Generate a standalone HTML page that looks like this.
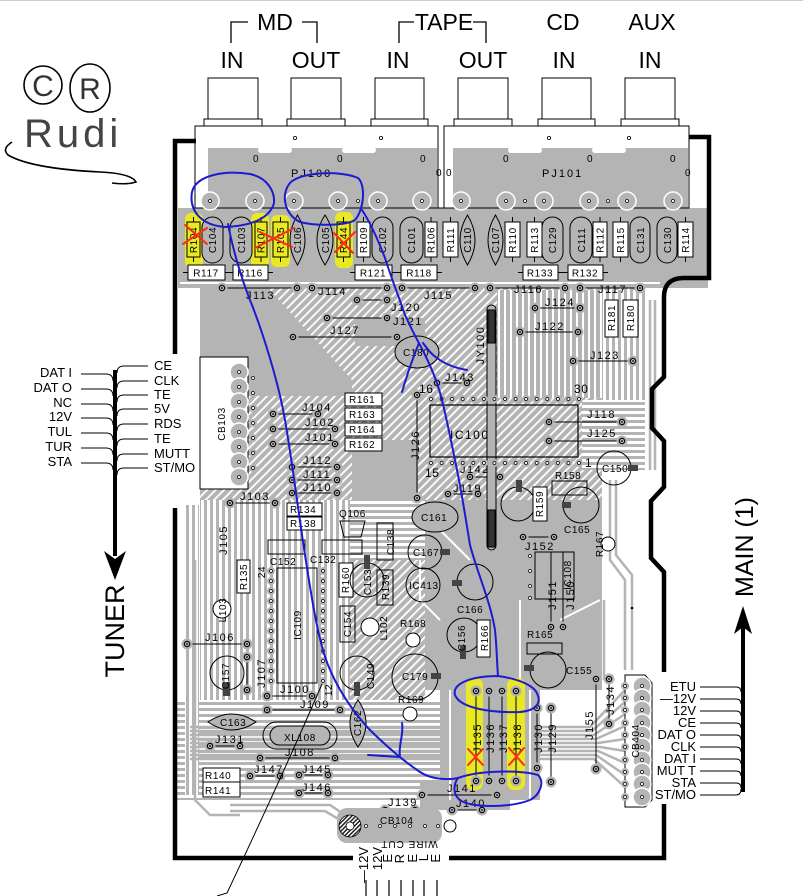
<!DOCTYPE html>
<html><head><meta charset="utf-8"><style>
html,body{margin:0;padding:0;background:#fff;}
svg{display:block;}
text{font-family:"Liberation Sans",Arial,sans-serif;fill:#000;}
.s{font-size:10px;letter-spacing:0.6px;}
.j{font-size:11px;letter-spacing:1.5px;}
.L{font-size:23px;}
.t{font-size:13px;}
</style></head><body>
<svg width="803" height="896" viewBox="0 0 803 896" xmlns="http://www.w3.org/2000/svg">
<defs>
<pattern id="pd" width="6" height="6" patternUnits="userSpaceOnUse" patternTransform="rotate(45)"><rect width="6" height="6" fill="#b4b4b4"/><rect width="1.8" height="6" fill="#fff"/></pattern>
<pattern id="pv" width="6" height="6" patternUnits="userSpaceOnUse"><rect width="6" height="6" fill="#b4b4b4"/><rect width="2" height="6" fill="#fff"/></pattern>
<pattern id="gv" width="6" height="6" patternUnits="userSpaceOnUse"><rect width="6" height="6" fill="#fff"/><rect width="3" height="6" fill="#b4b4b4"/></pattern>
<pattern id="gh" width="6" height="6" patternUnits="userSpaceOnUse"><rect width="6" height="6" fill="#fff"/><rect width="6" height="3" fill="#b4b4b4"/></pattern>
<pattern id="hatch" width="3" height="3" patternUnits="userSpaceOnUse" patternTransform="rotate(45)"><rect width="3" height="3" fill="#fff"/><rect width="1.5" height="3" fill="#222"/></pattern>
<g id="jd"><circle r="5.5" fill="#b4b4b4"/><circle r="2.7" fill="none" stroke="#000" stroke-width="1.1"/><circle r="0.9" fill="#000"/></g>
<g id="pp"><circle r="4" fill="#b4b4b4"/><circle r="1.5" fill="#fff" stroke="#000" stroke-width="0.7"/></g>
<g id="pad"><circle r="9" fill="#b4b4b4" stroke="#fff" stroke-width="1.5"/><circle r="1.5" fill="#fff" stroke="#000" stroke-width="0.7"/></g>
</defs>

<line x1="0" y1="0.5" x2="803" y2="0.5" stroke="#cfcfcf" stroke-width="1"/>

<!-- ===== PCB fills ===== -->
<rect x="178" y="208" width="530" height="80" fill="#b4b4b4"/>
<rect x="200" y="288" width="445" height="212" fill="url(#pd)"/>
<rect x="177" y="288" width="23" height="570" fill="#fff"/>
<polygon points="200,288 268,288 352,380 352,396 248,396 248,357 200,357" fill="#b4b4b4"/>
<rect x="352" y="440" width="66" height="60" fill="#b4b4b4"/>
<rect x="355" y="318" width="70" height="28" fill="#b4b4b4"/>
<rect x="497" y="290" width="105" height="108" fill="url(#pv)"/>
<rect x="602" y="290" width="43" height="110" fill="url(#gv)"/>
<rect x="582" y="400" width="63" height="70" fill="url(#gh)"/>
<rect x="645" y="288" width="19" height="400" fill="#fff"/>
<rect x="200" y="500" width="150" height="200" fill="url(#gv)"/>
<rect x="350" y="500" width="75" height="60" fill="url(#gh)"/>
<rect x="350" y="560" width="75" height="140" fill="url(#pd)"/>
<rect x="425" y="500" width="177" height="190" fill="#b4b4b4"/>
<rect x="602" y="470" width="43" height="220" fill="#fff"/>
<rect x="177" y="700" width="263" height="100" fill="url(#gh)"/>
<rect x="440" y="680" width="100" height="120" fill="#b4b4b4"/>
<rect x="540" y="690" width="124" height="168" fill="#fff"/>
<rect x="177" y="800" width="263" height="58" fill="#fff"/>
<rect x="420" y="782" width="90" height="28" fill="#b4b4b4"/>
<rect x="185" y="505" width="14" height="290" fill="url(#gv)"/>
<!-- grey trace bundles -->
<g stroke="#b4b4b4" stroke-width="2.5" fill="none">
<path d="M190,727 H590 L625,690"/><path d="M190,731 H592 L625,702"/><path d="M190,735 H594 L625,714"/>
<path d="M190,739 H596 L625,726"/><path d="M190,743 H598 L625,739"/><path d="M190,747 H600 L625,751"/>
<path d="M190,751 H598 L625,763"/><path d="M190,755 H596 L625,775"/><path d="M190,759 H594 L625,787"/>
<path d="M610,480 V560 L625,580 V670"/><path d="M616,480 V555 L632,575 V670"/><path d="M604,600 V680"/>
<path d="M230,805 H330 L345,815"/><path d="M230,811 H325 L340,820"/><path d="M195,560 V800 L210,815 H240"/>
<path d="M650,300 V470"/><path d="M655,300 V470"/>
</g>
<!-- white traces over grey -->
<g stroke="#fff" stroke-width="2" fill="none">
<path d="M180,283 H660"/><path d="M430,520 L470,560"/><path d="M440,620 L420,600 V560"/><path d="M520,600 V690"/>
<path d="M560,620 L600,600"/><path d="M450,690 V800"/><path d="M530,690 V800"/>
</g>

<!-- ===== Top jacks & housings ===== -->
<g fill="#fff" stroke="#000" stroke-width="1">
<rect x="208" y="78" width="50" height="41"/><rect x="204" y="119" width="58" height="7"/>
<rect x="291" y="78" width="50" height="41"/><rect x="287" y="119" width="58" height="7"/>
<rect x="375" y="78" width="49" height="41"/><rect x="371" y="119" width="57" height="7"/>
<rect x="458" y="78" width="50" height="41"/><rect x="454" y="119" width="58" height="7"/>
<rect x="542" y="78" width="49" height="41"/><rect x="538" y="119" width="57" height="7"/>
<rect x="625" y="78" width="50" height="41"/><rect x="621" y="119" width="58" height="7"/>
<rect x="195" y="126" width="243" height="82"/>
<rect x="444" y="126" width="245" height="82"/>
</g>
<rect x="208" y="148" width="229" height="60" fill="#b4b4b4"/>
<rect x="453" y="148" width="235" height="60" fill="#b4b4b4"/>
<g fill="#fff"><rect x="258" y="147" width="34" height="6" rx="3"/><rect x="342" y="147" width="34" height="6" rx="3"/><rect x="508" y="147" width="34" height="6" rx="3"/><rect x="592" y="147" width="34" height="6" rx="3"/></g>
<line x1="195" y1="208" x2="689" y2="208" stroke="#000" stroke-width="1"/>
<g fill="none" stroke="#000" stroke-width="0.8"><circle cx="295" cy="138" r="1.6"/><circle cx="381" cy="138" r="1.6"/><circle cx="549" cy="138" r="1.6"/><circle cx="629" cy="138" r="1.6"/></g>
<g class="s"><text x="253" y="162">0</text><text x="337" y="162">0</text><text x="420" y="162">0</text><text x="503" y="162">0</text><text x="587" y="162">0</text><text x="670" y="162">0</text><text x="436" y="176">0</text><text x="446" y="176">0</text><text x="685" y="176">0</text></g>
<text x="291" y="177" class="s" style="font-size:11px;letter-spacing:2px">PJ100</text>
<text x="542" y="177" class="s" style="font-size:11px;letter-spacing:2px">PJ101</text>
<g>
<use href="#pad" x="210" y="201"/><use href="#pad" x="255" y="201"/><use href="#pad" x="294" y="201"/><use href="#pad" x="338" y="201"/><use href="#pp" x="358" y="201"/><use href="#pad" x="378" y="201"/><use href="#pad" x="422" y="201"/>
<use href="#pad" x="461" y="201"/><use href="#pad" x="506" y="201"/><use href="#pp" x="525" y="201"/><use href="#pad" x="544" y="201"/><use href="#pad" x="589" y="201"/><use href="#pp" x="608" y="201"/><use href="#pad" x="627" y="201"/><use href="#pad" x="673" y="201"/>
</g>

<!-- top labels -->
<g class="L" text-anchor="middle">
<text x="275" y="30">MD</text><text x="444" y="30">TAPE</text><text x="563" y="30">CD</text><text x="652" y="30">AUX</text>
<text x="232" y="68">IN</text><text x="316" y="68">OUT</text><text x="398" y="68">IN</text><text x="483" y="68">OUT</text><text x="564" y="68">IN</text><text x="650" y="68">IN</text>
</g>
<g fill="none" stroke="#000" stroke-width="1.3">
<path d="M231,43 V22 H248"/><path d="M302,22 H317 V43"/>
<path d="M399,43 V22 H414"/><path d="M473,22 H486 V43"/>
</g>

<!-- board outline -->
<g fill="none" stroke="#000" stroke-width="4.5">
<path d="M196,141 H175 V354"/>
<path d="M175,508 V858 H353"/>
<path d="M449,858 H664 V804"/>
<path d="M664,672 V572 L651,558 V501 L664,487 V441 L652,428 V389 L664,377 V297 Q664,278 684,278 H709 V137 H689"/>
</g>

<!-- yellow highlights -->
<g fill="#e8e825">
<rect x="185" y="213" width="18" height="55" rx="6"/><rect x="251" y="213" width="18" height="55" rx="6"/>
<rect x="271" y="215" width="19" height="52" rx="6"/><rect x="335" y="212" width="18" height="56" rx="6"/>
<rect x="466" y="678" width="17" height="112" rx="7"/><rect x="507" y="678" width="18" height="112" rx="7"/>
</g>

<!-- top row components -->
<g stroke="#000" stroke-width="1">
<g fill="none">
<path d="M193.5,217V222M193.5,257V262M261,217V222M261,257V262M280.5,217V222M280.5,257V262M343.5,217V222M343.5,257V262M363.5,217V222M363.5,257V262M431,217V222M431,257V262M450.5,217V222M450.5,257V262M512.5,217V222M512.5,257V262M534.5,217V222M534.5,257V262M600,217V222M600,257V262M620.5,217V222M620.5,257V262M685.5,217V222M685.5,257V262"/>
</g>
<g fill="none">
<rect x="187" y="222" width="13" height="35"/><rect x="255" y="222" width="12" height="35"/><rect x="273" y="222" width="15" height="35"/><rect x="337" y="222" width="13" height="35"/>
</g>
<g fill="#fff">
<rect x="357" y="222" width="13" height="35"/><rect x="425" y="222" width="12" height="35"/><rect x="443" y="222" width="15" height="35"/><rect x="505" y="222" width="15" height="35"/><rect x="527" y="222" width="15" height="35"/><rect x="593" y="222" width="14" height="35"/><rect x="613" y="222" width="15" height="35"/><rect x="678" y="222" width="15" height="35"/>
</g>
<g fill="#b4b4b4">
<rect x="202" y="217" width="21" height="46" rx="10.5"/><rect x="230" y="217" width="22" height="46" rx="11"/><rect x="372" y="217" width="21" height="46" rx="10.5"/><rect x="400" y="217" width="23" height="46" rx="11.5"/>
<rect x="542" y="217" width="21" height="46" rx="10.5"/><rect x="570" y="217" width="22" height="46" rx="11"/><rect x="630" y="217" width="20" height="46" rx="10"/><rect x="657" y="217" width="20" height="46" rx="10"/>
<path d="M297.5,215 Q312.5,240 297.5,265 Q282.5,240 297.5,215Z"/><path d="M325,215 Q341,240 325,265 Q309,240 325,215Z"/>
<path d="M467.5,215 Q482.5,240 467.5,265 Q452.5,240 467.5,215Z"/><path d="M495.5,215 Q510.5,240 495.5,265 Q480.5,240 495.5,215Z"/>
</g>
<g fill="#fff">
<rect x="188" y="265" width="37" height="15"/><rect x="233" y="265" width="35" height="15"/><rect x="355" y="265" width="37" height="15"/><rect x="401" y="265" width="36" height="15"/><rect x="523" y="265" width="35" height="15"/><rect x="568" y="265" width="35" height="15"/>
</g>
<path fill="none" d="M183,272.5H188M225,272.5H230M228,272.5H233M268,272.5H273M350,272.5H355M392,272.5H397M396,272.5H401M437,272.5H442M518,272.5H523M558,272.5H563M563,272.5H568M603,272.5H608"/>
</g>
<g class="s" text-anchor="middle">
<text transform="translate(197,240) rotate(-90)">R104</text><text transform="translate(216,240) rotate(-90)">C104</text>
<text transform="translate(245,240) rotate(-90)">C103</text><text transform="translate(264.5,240) rotate(-90)">R107</text>
<text transform="translate(284,240) rotate(-90)">R105</text><text transform="translate(301,240) rotate(-90)">C106</text>
<text transform="translate(329,240) rotate(-90)">C105</text><text transform="translate(347,240) rotate(-90)">R144</text>
<text transform="translate(367,240) rotate(-90)">R109</text><text transform="translate(386,240) rotate(-90)">C102</text>
<text transform="translate(415,240) rotate(-90)">C101</text><text transform="translate(434.5,240) rotate(-90)">R106</text>
<text transform="translate(454,240) rotate(-90)">R111</text><text transform="translate(471,240) rotate(-90)">C110</text>
<text transform="translate(499,240) rotate(-90)">C107</text><text transform="translate(516,240) rotate(-90)">R110</text>
<text transform="translate(538,240) rotate(-90)">R113</text><text transform="translate(556,240) rotate(-90)">C129</text>
<text transform="translate(585,240) rotate(-90)">C111</text><text transform="translate(603.5,240) rotate(-90)">R112</text>
<text transform="translate(624,240) rotate(-90)">R115</text><text transform="translate(644,240) rotate(-90)">C131</text>
<text transform="translate(671,240) rotate(-90)">C130</text><text transform="translate(689,240) rotate(-90)">R114</text>
<text x="206" y="276.5">R117</text><text x="250" y="276.5">R116</text><text x="373" y="276.5">R121</text><text x="419" y="276.5">R118</text><text x="540" y="276.5">R133</text><text x="585" y="276.5">R132</text>
</g>

<!-- J jumpers -->
<g stroke="#000" stroke-width="1">
<path d="M222,288H297M312,288H387M402,288H475M490,288H565M580,288H640"/>
<path d="M357,300H387M327,318H387M293,337H397M535,308H580M520,332H578M573,361H633"/>
<path d="M437,383H467M549,422H622M549,441H622M470,477H500M448,494H478M523,537H554"/>
<path d="M417,395V498M551,552V627M563,552V627"/>
<path d="M273,414H318M273,429H335M273,444H335M292,467H337M292,480H337M292,493H337M230,503H275"/>
<path d="M187,644H247M247,657V690M267,696H312M267,710H340M210,746H240M260,758H335M250,776H280M299,775H328M299,793H328"/>
<path d="M476,691V781M489,691V781M502,691V781M516,691V781M537,708V768M551,708V782M596,679V769M609,679V724"/>
<path d="M422,795H497M452,810H482M385,810H415"/>
</g>
<g>
<use href="#jd" x="222" y="288"/><use href="#jd" x="297" y="288"/><use href="#jd" x="312" y="288"/><use href="#jd" x="387" y="288"/><use href="#jd" x="402" y="288"/><use href="#jd" x="475" y="288"/><use href="#jd" x="490" y="288"/><use href="#jd" x="565" y="288"/><use href="#jd" x="580" y="288"/><use href="#jd" x="640" y="288"/>
<use href="#jd" x="357" y="300"/><use href="#jd" x="387" y="300"/><use href="#jd" x="327" y="318"/><use href="#jd" x="387" y="318"/><use href="#jd" x="293" y="337"/><use href="#jd" x="397" y="337"/>
<use href="#jd" x="535" y="308"/><use href="#jd" x="580" y="308"/><use href="#jd" x="520" y="332"/><use href="#jd" x="578" y="332"/><use href="#jd" x="573" y="361"/><use href="#jd" x="633" y="361"/>
<use href="#jd" x="437" y="383"/><use href="#jd" x="467" y="383"/><use href="#jd" x="549" y="422"/><use href="#jd" x="622" y="422"/><use href="#jd" x="549" y="441"/><use href="#jd" x="622" y="441"/>
<use href="#jd" x="470" y="477"/><use href="#jd" x="500" y="477"/><use href="#jd" x="448" y="494"/><use href="#jd" x="478" y="494"/><use href="#jd" x="523" y="537"/><use href="#jd" x="554" y="537"/>
<use href="#jd" x="417" y="395"/><use href="#jd" x="417" y="498"/><use href="#jd" x="551" y="627"/><use href="#jd" x="563" y="627"/>
<use href="#jd" x="273" y="414"/><use href="#jd" x="318" y="414"/><use href="#jd" x="273" y="429"/><use href="#jd" x="335" y="429"/><use href="#jd" x="273" y="444"/><use href="#jd" x="335" y="444"/>
<use href="#jd" x="292" y="467"/><use href="#jd" x="337" y="467"/><use href="#jd" x="292" y="480"/><use href="#jd" x="337" y="480"/><use href="#jd" x="292" y="493"/><use href="#jd" x="337" y="493"/><use href="#jd" x="230" y="503"/><use href="#jd" x="275" y="503"/>
<use href="#jd" x="187" y="644"/><use href="#jd" x="247" y="644"/><use href="#jd" x="247" y="657"/><use href="#jd" x="247" y="690"/><use href="#jd" x="267" y="696"/><use href="#jd" x="312" y="696"/><use href="#jd" x="267" y="710"/><use href="#jd" x="340" y="710"/>
<use href="#jd" x="210" y="746"/><use href="#jd" x="240" y="746"/><use href="#jd" x="260" y="758"/><use href="#jd" x="335" y="758"/><use href="#jd" x="250" y="776"/><use href="#jd" x="280" y="776"/><use href="#jd" x="299" y="775"/><use href="#jd" x="328" y="775"/><use href="#jd" x="299" y="793"/><use href="#jd" x="328" y="793"/>
<use href="#jd" x="476" y="691"/><use href="#jd" x="489" y="691"/><use href="#jd" x="502" y="691"/><use href="#jd" x="516" y="691"/><use href="#jd" x="476" y="781"/><use href="#jd" x="489" y="781"/><use href="#jd" x="502" y="781"/><use href="#jd" x="516" y="781"/>
<use href="#jd" x="537" y="708"/><use href="#jd" x="537" y="768"/><use href="#jd" x="551" y="708"/><use href="#jd" x="551" y="782"/><use href="#jd" x="596" y="679"/><use href="#jd" x="596" y="769"/><use href="#jd" x="609" y="679"/><use href="#jd" x="609" y="724"/>
<use href="#jd" x="422" y="795"/><use href="#jd" x="497" y="795"/><use href="#jd" x="452" y="810"/><use href="#jd" x="482" y="810"/><use href="#jd" x="385" y="810"/><use href="#jd" x="415" y="810"/>
</g>
<g class="j">
<text x="246" y="299">J113</text><text x="318" y="295">J114</text><text x="424" y="299">J115</text><text x="514" y="293">J116</text><text x="598" y="293">J117</text>
<text x="391" y="311">J120</text><text x="393" y="325">J121</text><text x="330" y="334">J127</text><text x="545" y="306">J124</text><text x="535" y="330">J122</text><text x="590" y="359">J123</text>
<text x="445" y="381">J143</text><text x="587" y="418">J118</text><text x="587" y="437">J125</text><text x="460" y="473">J142</text><text x="453" y="492">J119</text><text x="525" y="550">J152</text>
<text x="302" y="411">J104</text><text x="305" y="426">J102</text><text x="305" y="441">J101</text><text x="303" y="464">J112</text><text x="303" y="478">J111</text><text x="303" y="491">J110</text><text x="240" y="500">J103</text>
<text x="205" y="641">J106</text><text x="280" y="693">J100</text><text x="300" y="708">J109</text><text x="215" y="743">J131</text><text x="285" y="756">J108</text><text x="254" y="773">J147</text><text x="302" y="773">J145</text><text x="302" y="791">J146</text>
<text x="447" y="792">J141</text><text x="456" y="807">J140</text><text x="388" y="806">J139</text>
</g>
<g class="j" text-anchor="middle">
<text transform="translate(419,445) rotate(-90)">J126</text><text transform="translate(484,345) rotate(-90)">JY100</text>
<text transform="translate(556,595) rotate(-90)">J151</text><text transform="translate(574,595) rotate(-90)">J150</text>
<text transform="translate(227,540) rotate(-90)">J105</text><text transform="translate(265,673) rotate(-90)">J107</text>
<text transform="translate(481,738) rotate(-90)">J135</text><text transform="translate(494,738) rotate(-90)">J136</text><text transform="translate(507,738) rotate(-90)">J137</text><text transform="translate(521,738) rotate(-90)">J138</text>
<text transform="translate(542,738) rotate(-90)">J130</text><text transform="translate(556,738) rotate(-90)">J129</text><text transform="translate(593,725) rotate(-90)">J155</text><text transform="translate(614,700) rotate(-90)">J134</text>
</g>

<!-- middle components -->
<g stroke="#000" stroke-width="1">
<ellipse cx="417" cy="352" rx="22" ry="16" fill="#b4b4b4"/>
<rect x="605" y="300" width="13" height="37" fill="#fff"/><rect x="623" y="300" width="15" height="37" fill="#fff"/>
<rect x="487" y="305" width="9" height="245" rx="4.5" fill="#b4b4b4"/>
<rect x="488" y="310" width="7" height="33" fill="#333"/><rect x="488" y="510" width="7" height="37" fill="#333"/>
<rect x="430" y="405" width="148" height="52" fill="none" stroke-width="1.2"/>
<circle cx="614" cy="468" r="17" fill="none"/>
<ellipse cx="435" cy="517" rx="23" ry="15" fill="#b4b4b4"/>
<circle cx="518" cy="504" r="17" fill="none"/>
<rect x="533" y="487" width="14" height="34" fill="#fff"/>
<rect x="552" y="481" width="35" height="14" fill="none"/>
<circle cx="581" cy="505" r="18" fill="none"/>
<circle cx="608" cy="544" r="7" fill="#fff"/>
<rect x="535" y="552" width="39" height="47" fill="none"/>
<rect x="200" y="357" width="48" height="132" fill="#fff"/>
<rect x="345" y="393" width="37" height="13" fill="#fff"/><rect x="345" y="408" width="37" height="13" fill="#fff"/><rect x="345" y="423" width="37" height="13" fill="#fff"/><rect x="345" y="438" width="37" height="13" fill="#fff"/>
<rect x="287" y="503" width="35" height="13" fill="#fff"/><rect x="287" y="517" width="35" height="13" fill="#fff"/>
<polygon points="340,521 365,521 361,537 344,537" fill="none"/>
<rect x="377" y="523" width="16" height="37" fill="none"/>
<rect x="268" y="540" width="37" height="14" fill="none"/><rect x="322" y="540" width="40" height="14" fill="none"/>
<rect x="237" y="560" width="13" height="33" fill="#fff"/>
<rect x="277" y="568" width="40" height="115" fill="none"/>
<rect x="339" y="563" width="14" height="34" fill="#fff"/>
<circle cx="367" cy="580" r="17" fill="none"/>
<rect x="377" y="570" width="16" height="35" fill="none"/>
<rect x="340" y="606" width="15" height="36" fill="none"/>
<circle cx="370" cy="627" r="9" fill="#fff"/>
<circle cx="357" cy="673" r="17" fill="none"/>
<path d="M358,700 Q374,723 358,747 Q342,723 358,700Z" fill="#b4b4b4"/>
<circle cx="222" cy="609" r="9" fill="#fff"/>
<circle cx="227" cy="673" r="17" fill="none"/>
<path d="M208,722 Q232,706 256,722 Q232,738 208,722Z" fill="#b4b4b4"/>
<rect x="263" y="722" width="74" height="27" rx="13.5" fill="none"/><rect x="270" y="726" width="60" height="19" rx="9.5" fill="#b4b4b4"/>
<rect x="203" y="768" width="37" height="14" fill="#fff"/><rect x="203" y="782" width="37" height="15" fill="#fff"/>
<rect x="527" y="643" width="35" height="11" fill="none"/>
<circle cx="548" cy="670" r="18" fill="none"/>
<circle cx="464" cy="635" r="17" fill="none"/>
<rect x="477" y="620" width="13" height="37" fill="#fff"/>
<circle cx="413" cy="640" r="7" fill="#fff"/>
<circle cx="415" cy="677" r="23" fill="none"/>
<circle cx="410" cy="714" r="7" fill="#fff"/>
<circle cx="425" cy="552" r="17" fill="none"/>
<circle cx="423" cy="585" r="17" fill="none"/>
<circle cx="475" cy="582" r="18" fill="none"/>
<path d="M625,675 H645 L652,683 V800 L645,807 H625 Z" fill="#fff"/>
</g>
<g fill="#444">
<rect x="628" y="465" width="10" height="6"/><rect x="516" y="480" width="6" height="12"/><rect x="562" y="502" width="9" height="6"/>
<rect x="364" y="555" width="6" height="14"/><rect x="354" y="682" width="6" height="14"/><rect x="223" y="682" width="7" height="14"/>
<rect x="524" y="665" width="10" height="6"/><rect x="460" y="645" width="6" height="14"/><rect x="431" y="673" width="10" height="6"/>
<rect x="440" y="549" width="10" height="6"/><rect x="452" y="580" width="10" height="6"/>
</g>
<!-- IC pins and CB pads -->
<g>
<use href="#pp" x="431" y="399"/><use href="#pp" x="441.6" y="399"/><use href="#pp" x="452.1" y="399"/><use href="#pp" x="462.7" y="399"/><use href="#pp" x="473.3" y="399"/><use href="#pp" x="483.9" y="399"/><use href="#pp" x="494.4" y="399"/><use href="#pp" x="505" y="399"/><use href="#pp" x="515.6" y="399"/><use href="#pp" x="526.1" y="399"/><use href="#pp" x="536.7" y="399"/><use href="#pp" x="547.3" y="399"/><use href="#pp" x="557.9" y="399"/><use href="#pp" x="568.4" y="399"/><use href="#pp" x="579" y="399"/>
<use href="#pp" x="431" y="463"/><use href="#pp" x="441.6" y="463"/><use href="#pp" x="452.1" y="463"/><use href="#pp" x="462.7" y="463"/><use href="#pp" x="473.3" y="463"/><use href="#pp" x="483.9" y="463"/><use href="#pp" x="494.4" y="463"/><use href="#pp" x="505" y="463"/><use href="#pp" x="515.6" y="463"/><use href="#pp" x="526.1" y="463"/><use href="#pp" x="536.7" y="463"/><use href="#pp" x="547.3" y="463"/><use href="#pp" x="557.9" y="463"/><use href="#pp" x="568.4" y="463"/><use href="#pp" x="579" y="463"/>
<use href="#pad" x="239" y="372"/><use href="#pad" x="239" y="387"/><use href="#pad" x="239" y="402"/><use href="#pad" x="239" y="417"/><use href="#pad" x="239" y="432"/><use href="#pad" x="239" y="447"/><use href="#pad" x="239" y="462"/><use href="#pad" x="239" y="477"/>
<use href="#pp" x="253" y="378"/><use href="#pp" x="253" y="393"/><use href="#pp" x="253" y="408"/><use href="#pp" x="253" y="423"/><use href="#pp" x="253" y="438"/><use href="#pp" x="253" y="453"/><use href="#pp" x="253" y="468"/>
<use href="#pp" x="271" y="571"/><use href="#pp" x="271" y="581"/><use href="#pp" x="271" y="591"/><use href="#pp" x="271" y="601"/><use href="#pp" x="271" y="611"/><use href="#pp" x="271" y="621"/><use href="#pp" x="271" y="631"/><use href="#pp" x="271" y="641"/><use href="#pp" x="271" y="651"/><use href="#pp" x="271" y="661"/><use href="#pp" x="271" y="671"/><use href="#pp" x="271" y="681"/>
<use href="#pp" x="323" y="571"/><use href="#pp" x="323" y="581"/><use href="#pp" x="323" y="591"/><use href="#pp" x="323" y="601"/><use href="#pp" x="323" y="611"/><use href="#pp" x="323" y="621"/><use href="#pp" x="323" y="631"/><use href="#pp" x="323" y="641"/><use href="#pp" x="323" y="651"/><use href="#pp" x="323" y="661"/><use href="#pp" x="323" y="671"/><use href="#pp" x="323" y="681"/>
<use href="#pp" x="530" y="556"/><use href="#pp" x="530" y="571"/><use href="#pp" x="530" y="586"/><use href="#pp" x="530" y="598"/>
<use href="#pp" x="625" y="686"/><use href="#pp" x="625" y="698"/><use href="#pp" x="625" y="710"/><use href="#pp" x="625" y="723"/><use href="#pp" x="625" y="735"/><use href="#pp" x="625" y="747"/><use href="#pp" x="625" y="760"/><use href="#pp" x="625" y="772"/><use href="#pp" x="625" y="784"/><use href="#pp" x="625" y="797"/>
<use href="#pad" x="642" y="686"/><use href="#pad" x="642" y="698"/><use href="#pad" x="642" y="710"/><use href="#pad" x="642" y="723"/><use href="#pad" x="642" y="735"/><use href="#pad" x="642" y="747"/><use href="#pad" x="642" y="760"/><use href="#pad" x="642" y="772"/><use href="#pad" x="642" y="784"/><use href="#pad" x="642" y="797"/>
</g>
<g class="s">
<text x="403" y="356">C180</text><text x="450" y="439" style="font-size:12px;letter-spacing:1.5px">IC100</text>
<text x="419" y="393" style="font-size:12px">16</text><text x="574" y="393" style="font-size:12px">30</text><text x="425" y="477" style="font-size:12px">15</text><text x="585" y="467" style="font-size:12px">1</text>
<text x="602" y="472">C150</text><text x="421" y="521">C161</text><text x="555" y="479">R158</text><text x="564" y="533">C165</text>
<text x="349" y="403">R161</text><text x="349" y="418">R163</text><text x="349" y="433">R164</text><text x="349" y="448">R162</text>
<text x="290" y="513">R134</text><text x="290" y="527">R138</text><text x="339" y="517">Q106</text><text x="270" y="565">C152</text><text x="310" y="563">C132</text>
<text x="284" y="741">XL108</text><text x="205" y="779">R140</text><text x="205" y="794">R141</text><text x="220" y="726">C163</text>
<text x="527" y="638">R165</text><text x="566" y="674">C155</text><text x="457" y="613">C166</text><text x="400" y="627">R168</text><text x="398" y="703">R169</text><text x="402" y="680">C179</text>
<text x="413" y="556">C167</text><text x="409" y="589">IC413</text>
</g>
<g class="s" text-anchor="middle">
<text transform="translate(615,318) rotate(-90)">R181</text><text transform="translate(634,318) rotate(-90)">R180</text>
<text transform="translate(543,504) rotate(-90)">R159</text><text transform="translate(603,544) rotate(-90)">R167</text><text transform="translate(571,575) rotate(-90)">IC108</text>
<text transform="translate(225,424) rotate(-90)">CB103</text><text transform="translate(247,577) rotate(-90)">R135</text><text transform="translate(301,625) rotate(-90)">IC109</text>
<text transform="translate(349,580) rotate(-90)">R160</text><text transform="translate(371,582) rotate(-90)">C153</text><text transform="translate(389,587) rotate(-90)">R139</text><text transform="translate(394,542) rotate(-90)">C138</text>
<text transform="translate(351,624) rotate(-90)">C154</text><text transform="translate(374,676) rotate(-90)">C149</text><text transform="translate(361,723) rotate(-90)">C162</text><text transform="translate(229,676) rotate(-90)">C157</text>
<text transform="translate(226,610) rotate(-90)">L103</text><text transform="translate(387,628) rotate(-90)">L102</text><text transform="translate(488,638) rotate(-90)">R166</text><text transform="translate(465,638) rotate(-90)">C156</text>
<text transform="translate(639,741) rotate(-90)">CB404</text><text transform="translate(265,572) rotate(-90)">24</text><text transform="translate(332,690) rotate(-90)">12</text>
</g>

<!-- CB104 -->
<rect x="337" y="808" width="105" height="35" rx="10" fill="#b4b4b4"/>
<circle cx="350" cy="826" r="11" fill="url(#hatch)" stroke="#000" stroke-width="0.8"/>
<circle cx="350" cy="826" r="4" fill="#fff" stroke="#000" stroke-width="0.8"/>
<g><use href="#pp" x="366" y="826"/><use href="#pp" x="380" y="826"/><use href="#pp" x="395" y="826"/><use href="#pp" x="410" y="826"/><use href="#pp" x="425" y="826"/><use href="#pp" x="438" y="826"/></g>
<circle cx="450" cy="826" r="6" fill="#fff" stroke="#000" stroke-width="1"/>
<text x="380" y="824" class="s">CB104</text>
<text transform="translate(409,841) rotate(180)" text-anchor="middle" style="font-size:10px;letter-spacing:1px">WIRE CUT</text>

<!-- bottom labels -->
<g class="t" text-anchor="end">
<text transform="translate(368,847) rotate(-90)">—12V</text><text transform="translate(382,847) rotate(-90)">12V</text>
<text transform="translate(392,854) rotate(-90)">E</text><text transform="translate(404,854) rotate(-90)">R</text><text transform="translate(417,854) rotate(-90)">E</text><text transform="translate(428,854) rotate(-90)">L</text><text transform="translate(440,854) rotate(-90)">E</text>
</g>
<path d="M366,880V896M377,880V896M389,880V896M401,880V896M413,880V896M424,880V896M437,880V896" stroke="#000" stroke-width="1.2"/>

<!-- wire -->
<path d="M322,684 Q285,770 227,893 L217,896" fill="none" stroke="#000" stroke-width="1"/>

<!-- TUNER connector -->
<g class="t" text-anchor="end">
<text x="72" y="377">DAT I</text><text x="72" y="392">DAT O</text><text x="72" y="407">NC</text><text x="72" y="421">12V</text><text x="72" y="436">TUL</text><text x="72" y="451">TUR</text><text x="72" y="466">STA</text>
</g>
<g class="t">
<text x="154" y="370">CE</text><text x="154" y="385">CLK</text><text x="154" y="399">TE</text><text x="154" y="413">5V</text><text x="154" y="428">RDS</text><text x="154" y="443">TE</text><text x="154" y="458">MUTT</text><text x="154" y="472">ST/MO</text>
</g>
<g fill="none" stroke="#000" stroke-width="1">
<path d="M81,374H106Q113,374 113,381M81,389H106Q113,389 113,396M81,404H106Q113,404 113,411M81,418H106Q113,418 113,425M81,433H106Q113,433 113,440M81,448H106Q113,448 113,455M81,463H106Q113,463 113,470"/>
<path d="M148,366H124Q117,366 117,373M148,381H124Q117,381 117,388M148,395H124Q117,395 117,402M148,409H124Q117,409 117,416M148,424H124Q117,424 117,431M148,439H124Q117,439 117,446M148,454H124Q117,454 117,461M148,468H124Q117,468 117,475"/>
</g>
<line x1="115" y1="370" x2="115" y2="556" stroke="#000" stroke-width="4"/>
<polygon points="104,551 115,559 126,551 115,580" fill="#000"/>
<text transform="translate(124,631) rotate(-90)" text-anchor="middle" style="font-size:27px">TUNER</text>

<!-- MAIN connector -->
<g class="t" text-anchor="end">
<text x="696" y="691">ETU</text><text x="696" y="703">—12V</text><text x="696" y="715">12V</text><text x="696" y="727">CE</text><text x="696" y="739">DAT O</text><text x="696" y="751">CLK</text><text x="696" y="763">DAT I</text><text x="696" y="775">MUT T</text><text x="696" y="787">STA</text><text x="696" y="799">ST/MO</text>
</g>
<g fill="none" stroke="#000" stroke-width="1">
<path d="M700,687H736Q741,687 741,692M700,699H736Q741,699 741,704M700,711H736Q741,711 741,716M700,723H736Q741,723 741,728M700,735H736Q741,735 741,740M700,747H736Q741,747 741,752M700,759H736Q741,759 741,764M700,771H736Q741,771 741,776M700,783H736Q741,783 741,788M700,795H736Q741,795 741,789"/>
</g>
<line x1="743" y1="626" x2="743" y2="792" stroke="#000" stroke-width="4"/>
<polygon points="734,634 743,627 752,634 743,606" fill="#000"/>
<circle cx="632" cy="608" r="1.3" fill="#000"/>
<text transform="translate(753,547) rotate(-90)" text-anchor="middle" style="font-size:25px">MAIN (1)</text>

<!-- handwriting -->
<g fill="none" stroke="#000" stroke-width="1.6">
<circle cx="43" cy="85" r="19"/><ellipse cx="90" cy="88" rx="20" ry="24"/>
<path d="M12,142 C6,146 3,150 8,155 C25,165 60,170 100,172 C120,173 133,176 136,182 C130,184 120,184 112,183"/>
</g>
<text x="43" y="96" text-anchor="middle" style="font-size:30px;fill:#333">C</text>
<text x="90" y="99" text-anchor="middle" style="font-size:30px;fill:#333">R</text>
<text x="24" y="147" style="font-size:40px;letter-spacing:4px;fill:#444">Rudi</text>

<!-- blue pen -->
<g fill="none" stroke="#1b1bd0" stroke-width="2" stroke-linecap="round">
<path d="M225,227 C200,225 189,210 192,192 C196,175 225,170 250,174 C268,178 275,192 274,203 C270,218 252,226 225,227"/>
<path d="M228,224 C232,245 240,275 250,300 C262,330 278,380 285,420 C292,460 298,510 305,555 C312,600 318,640 328,665 C338,690 352,710 368,728 C385,745 402,760 420,772 C432,780 450,780 458,778"/>
<path d="M368,755 L400,757 M400,757 C398,745 404,735 402,723"/>
<path d="M300,222 C285,215 280,195 290,183 C300,172 340,170 358,178 C366,185 364,210 355,220 C345,226 315,226 300,222"/>
<path d="M362,210 C372,225 380,245 385,258 C392,280 400,300 405,315 C412,330 416,338 420,345 C428,360 437,380 442,400 C448,425 453,450 458,475 C462,495 466,520 470,545 C478,575 490,600 495,630 C497,650 497,665 498,676"/>
<path d="M419,343 C412,360 407,375 402,392"/>
<path d="M423,343 C428,350 432,355 437,358 C445,364 455,368 467,370"/>
<path d="M498,676 C470,676 452,684 455,695 C460,708 490,713 520,712 C540,710 542,700 535,690 C525,680 505,677 498,676"/>
<path d="M458,778 C480,770 520,770 538,775 C545,782 540,795 530,800 C510,808 470,808 460,800 C453,795 453,785 458,778"/>
</g>

<!-- red X marks -->
<g stroke="#ff2a1a" stroke-width="2" stroke-linecap="round">
<path d="M185,225 L207,244 M183,244 L207,228"/>
<path d="M255,248 L294,228 M260,232 L292,247"/>
<path d="M334,233 L353,253 M335,252 L355,232"/>
<path d="M468,749 L483,765 M468,765 L483,749"/>
<path d="M509,748 L524,765 M509,765 L524,748"/>
</g>
</svg>
</body></html>
